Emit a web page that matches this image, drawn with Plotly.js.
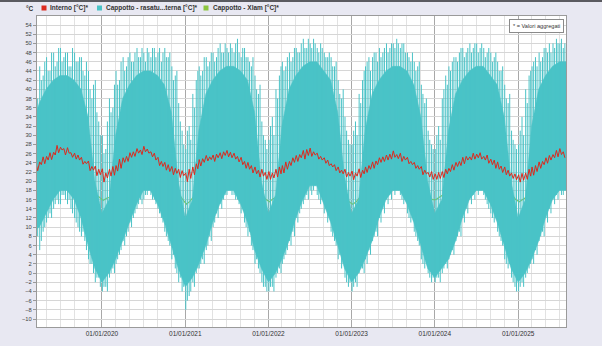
<!DOCTYPE html>
<html>
<head>
<meta charset="utf-8">
<script src="https://cdn.plot.ly/plotly-3.0.1.min.js"></script>
<style>html,body{margin:0;padding:0;background:#e8e8f2;}#chart{width:602px;height:346px;}</style>
</head>
<body>
<div id="chart"></div>
<script>
// ---- Data ----
const seriesNames = ["Interno [°C]*", "Cappotto - rasatu...terna [°C]*", "Cappotto - Xlam [°C]*"];
const yearTicks = ["2020-01-01","2021-01-01","2022-01-01","2023-01-01","2024-01-01","2025-01-01"];
const yearTickLabels = ["01/01/2020","01/01/2021","01/01/2022","01/01/2023","01/01/2024","01/01/2025"];

// Cappotto - rasatura esterna: bulk of the daily range, one value per month start (2019-03 .. 2025-08)
const coreHi2019 = [32, 37, 40, 42, 43, 43, 42, 40, 34, 20];
const coreLo2019 = [9, 10, 13, 16, 18, 18, 16, 12, 6, 1];
const coreHi2020 = [13, 16, 30, 38, 41, 43, 44, 44, 43, 41, 35, 20];
const coreLo2020 = [-2, 0, 3, 7, 11, 15, 18, 18, 15, 11, 6, 1];
const coreHi2021 = [12, 16, 31, 39, 42, 44, 45, 45, 44, 42, 35, 20];
const coreLo2021 = [-3, -1, 2, 6, 11, 15, 18, 18, 15, 11, 5, 1];
const coreHi2022 = [13, 17, 32, 40, 43, 45, 46, 46, 44, 42, 35, 21];
const coreLo2022 = [-2, 0, 3, 7, 12, 16, 19, 19, 15, 11, 6, 1];
const coreHi2023 = [13, 16, 31, 39, 42, 44, 45, 45, 44, 41, 34, 20];
const coreLo2023 = [-2, 0, 3, 7, 12, 16, 18, 18, 15, 11, 6, 1];
const coreHi2024 = [13, 16, 31, 39, 42, 44, 45, 45, 43, 41, 34, 20];
const coreLo2024 = [-1, 1, 3, 7, 12, 16, 18, 18, 15, 11, 6, 1];
const coreHi2025 = [12, 16, 32, 40, 43, 45, 46, 46];
const coreLo2025 = [-2, 0, 3, 7, 12, 16, 18, 18];

// Cappotto - rasatura esterna: daily extremes, two readings (A, B) per half-month (2019-03 2nd half .. 2025-07)
const cyanHiA2019 = [41, 45,43, 47,44, 48,46, 49,47, 48,45, 48,46, 47,43, 44,38, 42,33];
const cyanHiB2019 = [38, 42,46, 44,48, 45,49, 46,48, 45,49, 46,47, 44,46, 40,41, 35,30];
const cyanLoA2019 = [6, 5,9, 11,13, 14,16, 15,17, 15,14, 12,10, 8,7, 3,2, -2,-1];
const cyanLoB2019 = [8, 7,10, 12,12, 15,15, 17,16, 16,13, 11,9, 9,5, 2,0, -1,-3];
const cyanHiA2020 = [30,27, 38,36, 44,42, 47,45, 48,46, 49,47, 48,49, 47,49, 48,46, 49,47, 45,43, 37,31];
const cyanHiB2020 = [26,33, 35,41, 41,46, 44,47, 46,48, 47,49, 46,48, 49,47, 49,48, 47,48, 42,44, 33,28];
const cyanLoA2020 = [-4,-3, -1,1, 2,4, 7,8, 11,12, 14,16, 16,17, 17,16, 14,12, 9,7, 3,1, -2,-4];
const cyanLoB2020 = [-3,-4, 0,0, 3,5, 6,9, 10,13, 15,15, 17,18, 16,15, 13,11, 8,6, 4,0, -1,-3];
const cyanHiA2021 = [27,32, 39,42, 45,44, 47,46, 48,47, 50,48, 49,50, 48,51, 47,49, 47,45, 43,39, 33,29];
const cyanHiB2021 = [31,29, 36,44, 43,47, 45,48, 46,49, 48,50, 48,49, 50,48, 49,47, 46,47, 40,41, 30,27];
const cyanLoA2021 = [-8,-5, -2,0, 1,3, 5,8, 10,13, 15,16, 17,18, 17,16, 13,11, 8,6, 2,1, -2,-3];
const cyanLoB2021 = [-6,-4, -3,1, 2,2, 6,7, 11,12, 14,17, 18,17, 16,15, 14,10, 9,5, 3,0, -3,-4];
const cyanHiA2022 = [29,34, 40,43, 46,45, 48,47, 49,48, 51,49, 50,51, 49,50, 48,47, 47,45, 42,38, 34,29];
const cyanHiB2022 = [32,30, 38,45, 44,47, 46,49, 48,50, 49,51, 49,50, 48,49, 47,48, 45,46, 39,40, 31,28];
const cyanLoA2022 = [-4,-3, -1,1, 2,4, 7,9, 12,13, 15,17, 18,18, 17,15, 13,11, 9,7, 3,1, -1,-3];
const cyanLoB2022 = [-3,-4, 0,0, 3,5, 6,8, 11,14, 16,16, 17,19, 16,16, 14,12, 8,6, 4,2, -2,-2];
const cyanHiA2023 = [28,33, 39,42, 45,47, 47,48, 49,48, 50,49, 50,51, 49,50, 48,46, 46,45, 41,37, 31,28];
const cyanHiB2023 = [31,30, 37,44, 46,44, 48,46, 47,49, 48,50, 49,50, 50,48, 47,48, 44,46, 39,38, 29,27];
const cyanLoA2023 = [-4,-2, 0,1, 3,5, 7,9, 12,14, 16,17, 18,18, 17,15, 13,11, 9,7, 3,1, 0,-2];
const cyanLoB2023 = [-3,-3, 1,0, 2,4, 8,8, 11,13, 15,16, 17,18, 16,16, 12,12, 8,6, 2,2, -1,-1];
const cyanHiA2024 = [27,32, 38,43, 45,46, 47,48, 49,48, 50,49, 50,49, 49,48, 48,47, 46,44, 41,37, 31,28];
const cyanHiB2024 = [30,29, 40,41, 44,47, 46,49, 47,49, 48,50, 48,50, 47,49, 46,48, 44,45, 38,39, 29,27];
const cyanLoA2024 = [-2,-1, 0,2, 3,5, 7,9, 12,14, 16,17, 18,18, 17,15, 13,11, 9,7, 3,1, -1,-3];
const cyanLoB2024 = [-1,-2, 1,1, 4,4, 8,8, 11,13, 15,16, 17,18, 16,14, 12,12, 8,6, 2,2, -2,-4];
const cyanHiA2025 = [28,34, 40,43, 45,47, 48,47, 49,50, 50,51, 50,49];
const cyanHiB2025 = [31,30, 37,44, 46,45, 46,49, 48,48, 49,50, 51,50];
const cyanLoA2025 = [-4,-2, -1,1, 3,5, 7,9, 12,14, 16,17, 18,17];
const cyanLoB2025 = [-3,-3, 0,2, 2,4, 8,8, 11,13, 15,16, 17,18];

// Interno: daily high / daily low per half-month
const redHi2019 = [23.8, 24.2,25.3, 25.4,26.2, 26.3,27.8, 27.4,27.1, 27.3,26.2, 26.1,25.7, 25.2,24.3, 24.4,23.2, 23.3,22.6];
const redLo2019 = [22.3, 23.6,23.8, 24.6,24.7, 25.7,26.2, 26.8,25.7, 26.1,25.2, 24.8,24.6, 23.7,23.8, 22.3,22.4, 21.2,21.4];
const redHi2020 = [22.7,21.8, 22.6,23.2, 23.4,24.8, 25.1,25.4, 26.2,26.4, 27.1,26.8, 27.6,27.0, 26.4,26.1, 25.2,24.3, 24.1,23.6, 23.2,22.8, 22.6,22.3];
const redLo2020 = [19.8,20.7, 21.1,21.3, 22.2,22.8, 24.1,24.3, 25.2,25.4, 26.1,25.8, 26.4,26.1, 25.3,24.6, 23.4,23.2, 22.4,22.1, 21.4,21.7, 20.8,21.2];
const redHi2021 = [21.8,22.6, 23.1,23.8, 24.7,24.9, 25.6,25.3, 25.7,25.9, 26.2,26.4, 26.7,26.3, 26.1,25.4, 25.2,24.3, 24.1,23.4, 23.1,22.4, 22.6,21.9];
const redLo2021 = [19.9,20.6, 21.4,22.7, 23.3,24.1, 24.4,24.7, 24.3,25.1, 24.9,25.6, 25.3,25.1, 24.8,24.2, 23.6,22.8, 22.6,21.8, 21.6,20.9, 21.1,20.4];
const redHi2022 = [22.1,21.8, 22.6,23.1, 23.4,24.2, 24.3,25.1, 25.6,25.8, 26.7,26.9, 27.2,26.4, 26.1,25.4, 25.1,24.6, 23.8,23.6, 23.1,22.4, 22.6,21.9];
const redLo2022 = [20.4,20.7, 20.9,21.6, 21.8,22.6, 23.4,24.1, 24.3,25.1, 24.8,25.6, 25.4,25.7, 24.8,24.6, 23.9,23.4, 23.1,22.3, 21.8,21.6, 20.9,21.1];
const redHi2023 = [22.2,21.8, 22.7,22.4, 23.1,23.4, 24.2,24.4, 25.1,25.3, 25.7,25.9, 26.6,25.8, 26.1,25.4, 25.2,24.3, 24.1,23.4, 23.2,22.4, 21.9,22.1];
const redLo2023 = [20.3,21.1, 20.8,21.6, 21.9,22.6, 22.8,23.6, 24.1,24.3, 24.6,24.8, 25.2,24.9, 24.3,24.6, 23.8,23.6, 22.8,22.6, 21.4,21.6, 20.9,20.4];
const redHi2024 = [21.6,21.9, 22.1,22.6, 22.8,23.6, 24.1,24.3, 25.2,25.4, 25.3,26.1, 25.9,26.2, 25.4,25.7, 24.8,24.6, 24.2,23.3, 23.1,22.4, 21.8,21.6];
const redLo2024 = [20.4,20.6, 20.8,21.6, 22.1,22.4, 23.2,23.4, 23.8,24.6, 24.6,24.8, 25.1,24.8, 24.6,23.9, 23.6,22.8, 22.6,21.9, 21.4,21.1, 20.6,20.3];
const redHi2025 = [21.4,21.7, 21.8,22.6, 23.1,23.4, 24.2,24.3, 25.1,25.6, 25.8,26.7, 27.1,26.4];
const redLo2025 = [19.8,20.2, 20.4,21.1, 21.3,22.1, 22.8,23.6, 23.9,24.6, 25.1,25.3, 25.8,25.1];

// Cappotto - Xlam: one value per half-month
const green2019 = [19.5, 21,22, 23,24, 25.5,26.5, 27,27.5, 27,26.5, 25.5,24.5, 23,21.5, 20,18.5, 17,16.5];
const green2020 = [15.8,16.3, 16.5,17.5, 18.5,19.5, 21,22, 23,24, 25.5,26.5, 27,27.5, 27,26.5, 25.5,24.5, 23,21.5, 20,18.5, 17,16];
const green2021 = [15,15.6, 16.5,17.5, 18.5,19.5, 21,22, 23,24, 25.5,26.5, 27,27.5, 27,26.5, 25.5,24.5, 23,21.5, 20,18.5, 17,16];
const green2022 = [15.5,16.2, 16.5,17.5, 18.5,19.5, 21,22, 23,24, 25.5,26.5, 27,27.5, 27,26.5, 25.5,24.5, 23,21.5, 20,18.5, 17,15.5];
const green2023 = [15,15.5, 16.5,17.5, 18.5,19.5, 21,22, 23,24, 25.5,26.5, 27,27.5, 27,26.5, 25.5,24.5, 23,21.5, 20,18.5, 17,16];
const green2024 = [16,16.5, 17,17.5, 18.5,19.5, 21,22, 23,24, 25.5,26.5, 27,27.5, 27,26.5, 25.5,24.5, 23,21.5, 20,18.5, 17,16];
const green2025 = [15.5,16, 16.5,17.5, 18.5,19.5, 21,22, 23,24, 25.5,26.5, 27,27.5];

// ---- Assemble ----
const cat = (...a) => [].concat(...a);
const coreHi = cat(coreHi2019,coreHi2020,coreHi2021,coreHi2022,coreHi2023,coreHi2024,coreHi2025);
const coreLo = cat(coreLo2019,coreLo2020,coreLo2021,coreLo2022,coreLo2023,coreLo2024,coreLo2025);
const hiA = cat(cyanHiA2019,cyanHiA2020,cyanHiA2021,cyanHiA2022,cyanHiA2023,cyanHiA2024,cyanHiA2025);
const hiB = cat(cyanHiB2019,cyanHiB2020,cyanHiB2021,cyanHiB2022,cyanHiB2023,cyanHiB2024,cyanHiB2025);
const loA = cat(cyanLoA2019,cyanLoA2020,cyanLoA2021,cyanLoA2022,cyanLoA2023,cyanLoA2024,cyanLoA2025);
const loB = cat(cyanLoB2019,cyanLoB2020,cyanLoB2021,cyanLoB2022,cyanLoB2023,cyanLoB2024,cyanLoB2025);
const redHi = cat(redHi2019,redHi2020,redHi2021,redHi2022,redHi2023,redHi2024,redHi2025);
const redLo = cat(redLo2019,redLo2020,redLo2021,redLo2022,redLo2023,redLo2024,redLo2025);
const green = cat(green2019,green2020,green2021,green2022,green2023,green2024,green2025);

function pad(n){return (n<10?'0':'')+n;}
const monthStarts = [];
for (let y=2019; y<=2025; y++) for (let m=1; m<=12; m++) {
  if (y===2019 && m<3) continue;
  if (y===2025 && m>8) continue;
  monthStarts.push(y+'-'+pad(m)+'-01');
}
const halves = [];
for (let y=2019; y<=2025; y++) for (let m=1; m<=12; m++) for (let h=0; h<2; h++) {
  if (y===2019 && (m<3 || (m===3 && h===0))) continue;
  if (y===2025 && m>7) continue;
  halves.push([y,m,h]);
}
const xSeg = [], ySeg = [], xRed = [], yRed = [], xGreen = [];
halves.forEach((d,i)=>{
  const [y,m,h]=d;
  const dA = y+'-'+pad(m)+'-'+pad(3+15*h);
  const dB = y+'-'+pad(m)+'-'+pad(10+15*h);
  xSeg.push(dA, dA, null, dB, dB, null);
  ySeg.push(loA[i], hiA[i], null, loB[i], hiB[i], null);
  xRed.push(dA, dB); yRed.push(redHi[i], redLo[i]);
  xGreen.push(y+'-'+pad(m)+'-'+pad(6+15*h));
});
const xCore = monthStarts.concat(monthStarts.slice().reverse());
const yCore = coreHi.concat(coreLo.slice().reverse());

const cCyan = '#4ac3c7', cRed = '#dc2a1e', cGreen = '#8dc63f';

const traces = [
  {x:xGreen, y:green, type:'scatter', mode:'lines', line:{color:cGreen, width:1.2}, name:seriesNames[2], showlegend:false, hoverinfo:'skip'},
  {x:xCore, y:yCore, type:'scatter', mode:'lines', fill:'toself', fillcolor:cCyan, line:{color:cCyan, width:0.5}, name:seriesNames[1], showlegend:false, hoverinfo:'skip'},
  {x:xSeg, y:ySeg, type:'scatter', mode:'lines', line:{color:cCyan, width:1}, name:seriesNames[1], showlegend:false, hoverinfo:'skip', connectgaps:false},
  {x:xRed, y:yRed, type:'scatter', mode:'lines', line:{color:cRed, width:1}, name:seriesNames[0], showlegend:false, hoverinfo:'skip'}
];

// pixel helpers for paper coordinates
const L=37, R=566, T=16, B=327;
const px = v => (v-L)/(R-L);
const py = v => (B-v)/(B-T);

const legendItems = [
  {sq:41.5, tx:48, color:cRed, text:seriesNames[0]},
  {sq:97, tx:104, color:cCyan, text:seriesNames[1]},
  {sq:203.5, tx:211, color:cGreen, text:seriesNames[2]}
];
const shapes = [
  {type:'rect', xref:'paper', yref:'paper', x0:px(0), x1:px(602), y0:py(0), y1:py(2), fillcolor:'#5a5a60', line:{width:0}, layer:'above'}
];
const annotations = [
  {xref:'paper', yref:'paper', x:px(36), y:py(8), xanchor:'right', yanchor:'middle', text:'°C', showarrow:false, font:{family:'Liberation Sans, Arial', size:6.5, color:'#333', weight:'bold'}},
  {xref:'paper', yref:'paper', x:px(536), y:py(25.5), xanchor:'center', yanchor:'middle', text:'* = Valori aggregati', showarrow:false,
   font:{family:'Liberation Sans, Arial', size:5.6, color:'#333'}, bgcolor:'#ffffff', bordercolor:'#8a8a8a', borderwidth:1, borderpad:3}
];
legendItems.forEach(it=>{
  shapes.push({type:'rect', xref:'paper', yref:'paper', x0:px(it.sq), x1:px(it.sq+5), y0:py(5.5), y1:py(10.5), fillcolor:it.color, line:{width:0}});
  annotations.push({xref:'paper', yref:'paper', x:px(it.tx), y:py(8), xanchor:'left', yanchor:'middle', text:it.text, showarrow:false,
    font:{family:'Liberation Sans, Arial', size:6.5, color:'#333', weight:'bold'}});
});

const layout = {
  width:602, height:346,
  margin:{l:L, r:602-R, t:T, b:346-B, pad:0},
  paper_bgcolor:'#e8e8f2', plot_bgcolor:'#ffffff',
  showlegend:false,
  xaxis:{type:'date', range:['2019-03-22','2025-07-30'], tickmode:'array', tickvals:yearTicks, ticktext:yearTickLabels,
    showgrid:true, gridcolor:'#a8a8a8', gridwidth:1, ticks:'', tickfont:{family:'Liberation Sans, Arial', size:6.5, color:'#333'},
    minor:{dtick:'M2', showgrid:true, gridcolor:'#e2e2e2', gridwidth:1},
    showline:true, mirror:true, linecolor:'#9a9a9a', linewidth:1, zeroline:false, fixedrange:true},
  yaxis:{range:[-11.74,55.96], tick0:0, dtick:2, showgrid:true, gridcolor:'#d6d6d6', gridwidth:1,
    ticks:'outside', ticklen:3, tickcolor:'#999', tickfont:{family:'Liberation Sans, Arial', size:5.8, color:'#444'},
    showline:true, mirror:true, linecolor:'#9a9a9a', linewidth:1, zeroline:false, fixedrange:true},
  shapes:shapes, annotations:annotations
};

Plotly.newPlot('chart', traces, layout, {staticPlot:true, displayModeBar:false});
</script>
</body>
</html>
